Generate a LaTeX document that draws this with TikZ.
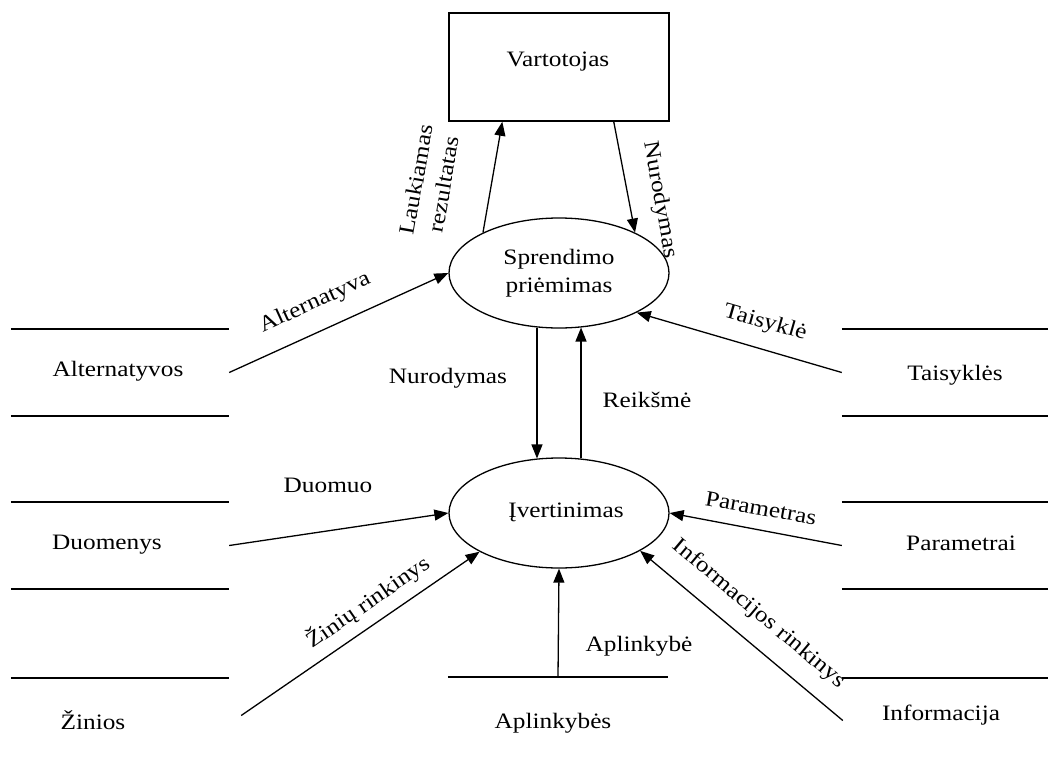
\documentclass[tikz,border=0pt]{standalone}
\usepackage{fontspec}
\setmainfont{Liberation Serif}[FakeStretch=1.15]
\usetikzlibrary{shapes.geometric,arrows.meta}

\begin{document}
\begin{tikzpicture}[x=1pt,y=-1pt,
  every node/.style={font=\fontsize{22}{28}\selectfont, inner sep=0pt},
  entity/.style={draw, line width=1.5pt, rectangle, minimum width=220, minimum height=108},
  process/.style={draw, line width=1.3pt, ellipse, minimum width=220, minimum height=110, align=center},
  store/.style={rectangle, minimum width=218, minimum height=87},
  storeline/.style={line width=1.8pt},
  flow/.style={line width=1.3pt, -{Triangle[length=14pt,width=11pt]}},
  flowlabel/.style={align=center}
]
\useasboundingbox (0,0) rectangle (1048,760);

% external entity and processes
\node[entity] (vart) at (559,67) {};
\node (vartT) at (558,62) {Vartotojas};
\node[process] (sp) at (559,273) {Sprendimo\\priėmimas};
\node[process] (iv) at (559,513) {};
\node (ivT) at (566,512) {Įvertinimas};

% data stores, left column
\node[store] (alt) at (120,372.5) {};
\node[store] (duo) at (120,545.5) {};
\node[store] (zin) at (120,721.5) {};
\node (altT) at (118,371) {Alternatyvos};
\node (duoT) at (107,545) {Duomenys};
\node (zinT) at (93,720) {Žinios};
\draw[storeline] (alt.north west) -- (alt.north east);
\draw[storeline] (alt.south west) -- (alt.south east);
\draw[storeline] (duo.north west) -- (duo.north east);
\draw[storeline] (duo.south west) -- (duo.south east);
\draw[storeline] (zin.north west) -- (zin.north east);

% data stores, right column
\node[store, minimum width=206] (tai) at (945,372.5) {};
\node[store, minimum width=206] (par) at (945,545.5) {};
\node[store, minimum width=206] (inf) at (945,721.5) {};
\node (taiT) at (955,375) {Taisyklės};
\node (parT) at (961,543) {Parametrai};
\node (infT) at (941,715) {Informacija};
\draw[storeline] (tai.north west) -- (tai.north east);
\draw[storeline] (tai.south west) -- (tai.south east);
\draw[storeline] (par.north west) -- (par.north east);
\draw[storeline] (par.south west) -- (par.south east);
\draw[storeline] (inf.north west) -- (inf.north east);

% data store below
\node[store, minimum width=220] (apl) at (558,720.5) {};
\node (aplT) at (553,723) {Aplinkybės};
\draw[storeline] (apl.north west) -- (apl.north east);

% flows between user and decision process
\draw[flow] (sp.152.5) -- (vart.-136);
\draw[flow] (vart.-45) -- (sp.28.7);
\node[flowlabel, rotate=80] (lrez) at (430,182) {Laukiamas\\rezultatas};
\node[rotate=-80] (nur1) at (660,200) {Nurodymas};

% flows between the two processes
\draw[flow] (sp.-112.2) -- (iv.112.2);
\draw[flow] (iv.68.7) -- (sp.-68.7);
\node (nur2) at (448,378) {Nurodymas};
\node (reik) at (647,400) {Reikšmė};

% flows from data stores
\draw[flow] (alt.east) -- (sp.west);
\node[rotate=24.5] (altL) at (315,303) {Alternatyva};
\draw[flow] (tai.west) -- (sp.-27.5);
\node[rotate=-16] (taiL) at (765,323) {Taisyklė};
\draw[flow] (duo.east) -- (iv.west);
\node (duoL) at (328,485) {Duomuo};
\draw[flow] ([shift={(12,-6)}]zin.east) -- (iv.-154.6);
\node[rotate=34.7] (zinL) at (368,602) {Žinių rinkinys};
\draw[flow] (par.west) -- (iv.east);
\node[rotate=-10] (parL) at (761,508) {Parametras};
\draw[flow] ([shift={(1,-1)}]inf.west) -- (iv.-25.7);
\node[rotate=-40] (infL) at (759,614) {Informacijos rinkinys};
\draw[flow] (apl.north) -- (iv.south);
\node (aplL) at (639,646) {Aplinkybė};
\end{tikzpicture}
\end{document}
